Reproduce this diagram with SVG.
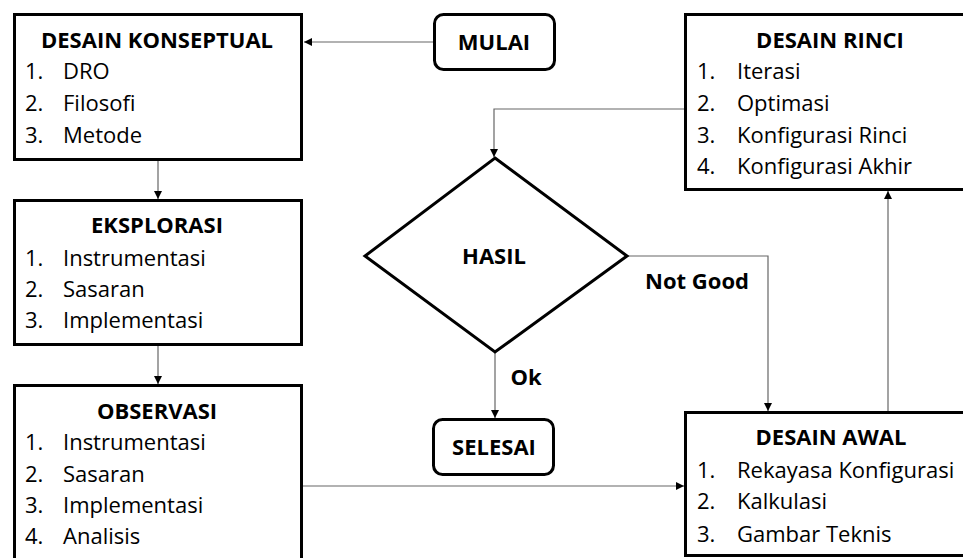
<svg xmlns="http://www.w3.org/2000/svg" width="963" height="558" viewBox="0 0 963 558">
<style>
.box{fill:#fff;stroke:#000;stroke-width:3}
.t{font-family:"Open Sans","Liberation Sans",sans-serif;font-size:22px;font-weight:bold;fill:#000;text-anchor:middle}
.i{font-family:"Open Sans","Liberation Sans",sans-serif;font-size:22px;fill:#000}
.c{fill:none;stroke:#666;stroke-width:1.2}
</style>
<defs>
<marker id="ah" markerUnits="userSpaceOnUse" markerWidth="8" markerHeight="8" refX="8" refY="4" orient="auto">
<path d="M0,0 L8,4 L0,8 z" fill="#000"/>
</marker>
</defs>
<rect width="963" height="558" fill="#fff"/>
<g id="connectors">
<path class="c" d="M433,42 H304" marker-end="url(#ah)"/>
<path class="c" d="M158,161 V199" marker-end="url(#ah)"/>
<path class="c" d="M158,346 V384" marker-end="url(#ah)"/>
<path class="c" d="M303,486 H684" marker-end="url(#ah)"/>
<path class="c" d="M888,411 V191" marker-end="url(#ah)"/>
<path class="c" d="M684,109 H494 V157" marker-end="url(#ah)"/>
<path class="c" d="M627,256 H768 V411" marker-end="url(#ah)"/>
<path class="c" d="M495,352 V418" marker-end="url(#ah)"/>
<text class="t" x="697" y="289">Not Good</text>
<text class="t" x="526" y="385">Ok</text>
</g>
<g id="desain-konseptual">
<rect class="box" x="14.5" y="14.5" width="287" height="145"/>
<text class="t" x="157" y="48">DESAIN KONSEPTUAL</text>
<text class="i" x="25" y="79">1.</text><text class="i" x="63" y="79">DRO</text>
<text class="i" x="25" y="111">2.</text><text class="i" x="63" y="111">Filosofi</text>
<text class="i" x="25" y="143">3.</text><text class="i" x="63" y="143">Metode</text>
</g>
<g id="eksplorasi">
<rect class="box" x="14.5" y="200.5" width="287" height="144"/>
<text class="t" x="157" y="233">EKSPLORASI</text>
<text class="i" x="25" y="266">1.</text><text class="i" x="63" y="266">Instrumentasi</text>
<text class="i" x="25" y="297">2.</text><text class="i" x="63" y="297">Sasaran</text>
<text class="i" x="25" y="328">3.</text><text class="i" x="63" y="328">Implementasi</text>
</g>
<g id="observasi">
<rect class="box" x="14.5" y="385.5" width="287" height="200"/>
<text class="t" x="157" y="419">OBSERVASI</text>
<text class="i" x="25" y="450">1.</text><text class="i" x="63" y="450">Instrumentasi</text>
<text class="i" x="25" y="482">2.</text><text class="i" x="63" y="482">Sasaran</text>
<text class="i" x="25" y="513">3.</text><text class="i" x="63" y="513">Implementasi</text>
<text class="i" x="25" y="544">4.</text><text class="i" x="63" y="544">Analisis</text>
</g>
<g id="mulai">
<rect class="box" x="434.5" y="14.5" width="120" height="55" rx="9"/>
<text class="t" x="494" y="50">MULAI</text>
</g>
<g id="hasil">
<polygon class="box" points="495,158 627,256 495,352 365,256"/>
<text class="t" x="494" y="264">HASIL</text>
</g>
<g id="selesai">
<rect class="box" x="433.5" y="419.5" width="120" height="55" rx="9"/>
<text class="t" x="494" y="455">SELESAI</text>
</g>
<g id="desain-rinci">
<rect class="box" x="685.5" y="14.5" width="300" height="175"/>
<text class="t" x="830" y="48">DESAIN RINCI</text>
<text class="i" x="697" y="79">1.</text><text class="i" x="737" y="79">Iterasi</text>
<text class="i" x="697" y="111">2.</text><text class="i" x="737" y="111">Optimasi</text>
<text class="i" x="697" y="143">3.</text><text class="i" x="737" y="143">Konfigurasi Rinci</text>
<text class="i" x="697" y="174">4.</text><text class="i" x="737" y="174">Konfigurasi Akhir</text>
</g>
<g id="desain-awal">
<rect class="box" x="685.5" y="412.5" width="300" height="143"/>
<text class="t" x="831" y="445">DESAIN AWAL</text>
<text class="i" x="697" y="478">1.</text><text class="i" x="737" y="478">Rekayasa Konfigurasi</text>
<text class="i" x="697" y="509">2.</text><text class="i" x="737" y="509">Kalkulasi</text>
<text class="i" x="697" y="542">3.</text><text class="i" x="737" y="542">Gambar Teknis</text>
</g>
</svg>
